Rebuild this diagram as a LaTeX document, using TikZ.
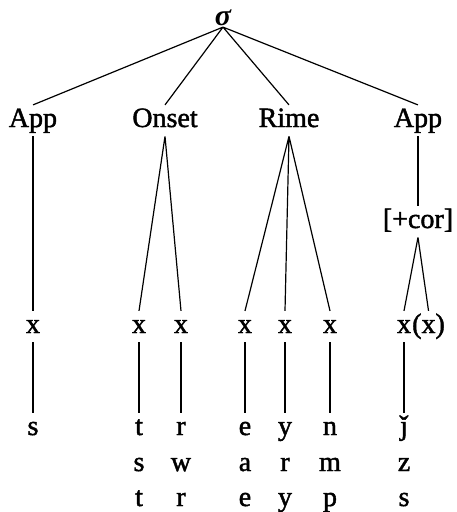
\documentclass[tikz,border=0pt]{standalone}
\usepackage{fontspec}
\setmainfont{Liberation Serif}
\newfontfamily\labfont[FakeBold=1.6]{Liberation Serif}
\begin{document}
\begin{tikzpicture}[x=1pt,y=-1pt,line width=1.2pt,
  lab/.style={font=\labfont\fontsize{28}{32}\selectfont,anchor=base,inner xsep=0pt,
    inner ysep=2pt,text height=19.5pt,text depth=6.75pt}]
\useasboundingbox (0,0) rectangle (457,512);
\node[lab,font=\fontsize{30}{34}\selectfont\bfseries\itshape,text height=11pt,
  text depth=0pt,inner ysep=1.5pt] (sig) at (223,25) {σ};
\node[lab] (appL) at (33,127) {App};
\node[lab] (onset) at (165,127) {Onset};
\node[lab] (rime) at (289,127) {Rime};
\node[lab] (appR) at (418,127) {App};
\node[lab] (cor) at (418,228) {[+cor]};
\foreach \i/\xx in {1/33,2/139,3/181,4/245,5/285,6/330}
  \node[lab] (x\i) at (\xx,333) {x};
\node[lab] (xa) at (404,333) {x};
\node[lab,anchor=base west] (xb) at (xa.base east) {(x)};
\foreach \i/\xx/\a/\b/\c in {2/139/t/s/t,3/181/r/w/r,4/245/e/a/e,5/285/y/r/y,6/330/n/m/p,7/404/ǰ/z/s}{
  \node[lab] (s\i a) at (\xx,435) {\a};
  \node[lab] (s\i b) at (\xx,471) {\b};
  \node[lab] (s\i c) at (\xx,506) {\c};
}
\node[lab] (s1a) at (33,435) {s};
\draw (sig.south)--(appL.north) (sig.south)--(onset.north)
  (sig.south)--(rime.north) (sig.south)--(appR.north);
\draw (appL.south)--(x1.north);
\draw (onset.south)--(x2.north) (onset.south)--(x3.north);
\draw (rime.south)--(x4.north) (rime.south)--(x5.north) (rime.south)--(x6.north);
\draw (appR.south)--(cor.north);
\draw (cor.south)--(xa.north) (cor.south)--(xb.north);
\foreach \i in {1,...,6}
  \draw (x\i.south)--(s\i a.north);
\draw (xa.south)--(s7a.north);
\end{tikzpicture}
\end{document}
